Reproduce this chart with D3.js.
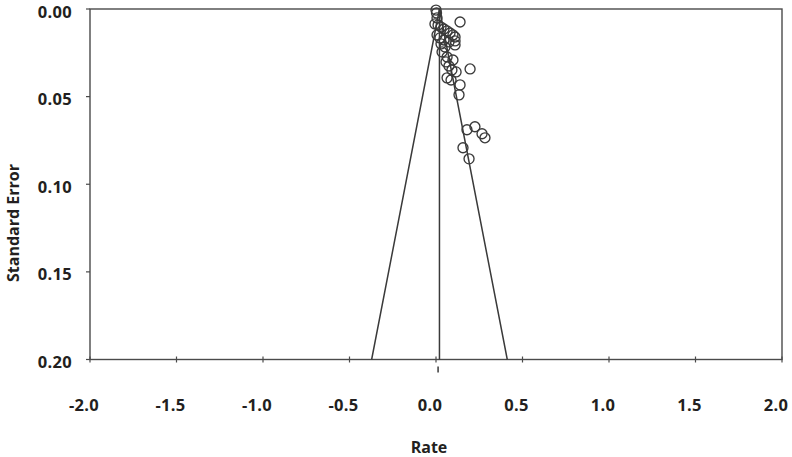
<!DOCTYPE html>
<html><head><meta charset="utf-8">
<script src="https://cdn.jsdelivr.net/npm/d3@7"></script>
<style>body{margin:0;background:#fff}svg{display:block}text{font-family:"Open Sans",sans-serif;font-weight:700;fill:#231f20}</style>
</head><body>
<svg id="chart" width="792" height="457"></svg>
<script>
// Study estimates (rate) and their standard errors
const rates = [0.000,0.003,0.006,-0.006,0.012,0.029,0.046,0.064,0.081,0.098,0.110,0.110,0.006,0.023,0.046,0.075,0.110,0.035,0.064,0.098,0.058,0.075,0.092,0.116,0.064,0.087,0.139,0.133,0.139,0.197,0.225,0.179,0.266,0.283,0.156,0.191,0.052,0.029];
const stdErrors = [0.0006,0.0023,0.0051,0.0085,0.0091,0.0103,0.0114,0.0125,0.0137,0.0148,0.0160,0.0182,0.0148,0.0165,0.0177,0.0188,0.0205,0.0245,0.0274,0.0291,0.0302,0.0325,0.0348,0.0359,0.0393,0.0405,0.0433,0.0490,0.0074,0.0342,0.0672,0.0689,0.0712,0.0735,0.0792,0.0855,0.0217,0.0199];
const pooledRate = 0.02;
const summaryMarker = 0.012;
const xTicks = [-2.0,-1.5,-1.0,-0.5,0.0,0.5,1.0,1.5,2.0];
const xTickLabels = ["-2.0","-1.5","-1.0","-0.5","0.0","0.5","1.0","1.5","2.0"];
const yTicks = [0.00,0.05,0.10,0.15,0.20];
const yTickLabels = ["0.00","0.05","0.10","0.15","0.20"];
const xDomain = [-2, 2];
const yDomain = [0, 0.2];

const svg = d3.select("#chart");
const L = 90, R = 782, T = 9, B = 359.5;
const x = d3.scaleLinear().domain(xDomain).range([L, R]);
const y = d3.scaleLinear().domain(yDomain).range([T, B]);
const stroke = "#3a3a3a";

// box
svg.append("rect").attr("x", L).attr("y", T).attr("width", R - L).attr("height", B - T)
  .attr("fill", "none").attr("stroke", "#4a4a4a").attr("stroke-width", 1.4);

// y ticks
svg.append("g").selectAll("line").data(yTicks).join("line")
  .attr("x1", L - 4).attr("x2", L).attr("y1", d => y(d)).attr("y2", d => y(d))
  .attr("stroke", "#4a4a4a").attr("stroke-width", 1.2);
svg.append("g").selectAll("text").data(yTicks).join("text")
  .attr("x", 72).attr("y", d => y(d) + 8.5).attr("text-anchor", "end")
  .attr("font-size", 16.5).attr("letter-spacing", 0.3)
  .text((d, i) => yTickLabels[i]);

// x ticks
svg.append("g").selectAll("line").data(xTicks).join("line")
  .attr("x1", d => x(d)).attr("x2", d => x(d)).attr("y1", B - 3).attr("y2", B + 3)
  .attr("stroke", "#4a4a4a").attr("stroke-width", 1.2);
svg.append("g").selectAll("text").data(xTicks).join("text")
  .attr("x", d => x(d) - 6).attr("y", 411).attr("text-anchor", "middle")
  .attr("font-size", 16.5).attr("letter-spacing", 0.3)
  .text((d, i) => xTickLabels[i]);

// axis titles
svg.append("text").attr("x", 429).attr("y", 453).attr("text-anchor", "middle")
  .attr("font-size", 16).text("Rate");
svg.append("text").attr("transform", "translate(19,223) rotate(-90)").attr("text-anchor", "middle")
  .attr("font-size", 16).text("Standard Error");

// funnel
const seMax = yDomain[1];
const funnel = [[pooledRate - 1.96 * seMax, seMax], [pooledRate, 0], [pooledRate + 1.96 * seMax, seMax]];
svg.append("path").datum(funnel)
  .attr("d", d3.line().x(d => x(d[0])).y(d => y(d[1])))
  .attr("fill", "none").attr("stroke", stroke).attr("stroke-width", 1.5);
svg.append("line").attr("x1", x(pooledRate)).attr("x2", x(pooledRate)).attr("y1", y(0)).attr("y2", y(seMax))
  .attr("stroke", stroke).attr("stroke-width", 1.5);
// summary marker
svg.append("line").attr("x1", x(summaryMarker)).attr("x2", x(summaryMarker)).attr("y1", B + 7).attr("y2", B + 13)
  .attr("stroke", stroke).attr("stroke-width", 1.5);

// points
svg.append("g").selectAll("circle").data(rates.map((r, i) => [r, stdErrors[i]])).join("circle")
  .attr("cx", d => x(d[0])).attr("cy", d => y(d[1])).attr("r", 5)
  .attr("fill", "none").attr("stroke", stroke).attr("stroke-width", 1.35);
</script>
</body></html>
